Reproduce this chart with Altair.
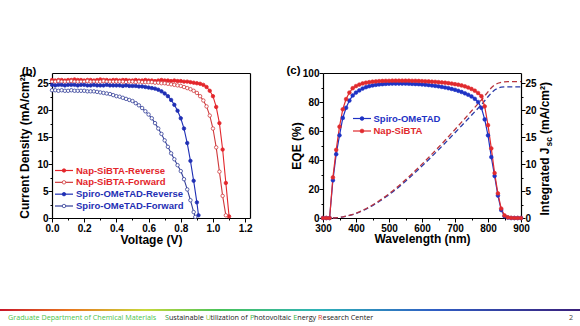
import altair as alt
import pandas as pd

FONT = "Liberation Sans"

# ---------------- panel (b): J-V curves ----------------
V_NAP_REV = [0.00, 0.02, 0.04, 0.06, 0.08, 0.10, 0.12, 0.14, 0.16, 0.18,
             0.20, 0.22, 0.24, 0.26, 0.28, 0.30, 0.32, 0.34, 0.36, 0.38,
             0.40, 0.42, 0.44, 0.46, 0.48, 0.50, 0.52, 0.54, 0.56, 0.58,
             0.60, 0.62, 0.64, 0.66, 0.68, 0.70, 0.72, 0.74, 0.76, 0.78,
             0.80, 0.82, 0.84, 0.86, 0.88, 0.90, 0.92, 0.94, 0.96, 0.98,
             1.00, 1.02, 1.04, 1.06, 1.08, 1.10]
J_NAP_REV = [25.6, 25.5, 25.6, 25.6, 25.5, 25.6, 25.6, 25.7, 25.6, 25.6,
             25.5, 25.6, 25.6, 25.5, 25.6, 25.7, 25.6, 25.6, 25.5, 25.6,
             25.6, 25.5, 25.6, 25.6, 25.5, 25.5, 25.6, 25.5, 25.5, 25.6,
             25.5, 25.5, 25.4, 25.5, 25.6, 25.5, 25.5, 25.4, 25.5, 25.4,
             25.4, 25.3, 25.3, 25.2, 25.1, 25.0, 24.9, 24.7, 24.3, 23.6,
             22.6, 20.6, 17.6, 12.7, 6.5, 0.3]
V_NAP_FWD = [0.00, 0.02, 0.04, 0.06, 0.08, 0.10, 0.12, 0.14, 0.16, 0.18,
             0.20, 0.22, 0.24, 0.26, 0.28, 0.30, 0.32, 0.34, 0.36, 0.38,
             0.40, 0.42, 0.44, 0.46, 0.48, 0.50, 0.52, 0.54, 0.56, 0.58,
             0.60, 0.62, 0.64, 0.66, 0.68, 0.70, 0.72, 0.74, 0.76, 0.78,
             0.80, 0.82, 0.84, 0.86, 0.88, 0.90, 0.92, 0.94, 0.96, 0.98,
             1.00, 1.02, 1.04, 1.06, 1.08]
J_NAP_FWD = [25.3, 25.3, 25.4, 25.3, 25.3, 25.3, 25.4, 25.3, 25.3, 25.3,
             25.3, 25.4, 25.3, 25.3, 25.3, 25.3, 25.4, 25.3, 25.3, 25.3,
             25.3, 25.3, 25.3, 25.2, 25.3, 25.3, 25.2, 25.3, 25.2, 25.2,
             25.2, 25.2, 25.1, 25.1, 25.0, 25.0, 24.9, 24.8, 24.7, 24.6,
             24.5, 24.3, 24.1, 23.9, 23.6, 23.2, 22.6, 21.8, 20.7, 19.0,
             16.6, 13.1, 8.6, 4.1, 0.5]
V_SPIRO_REV = [0.00, 0.02, 0.04, 0.06, 0.08, 0.10, 0.12, 0.14, 0.16, 0.18,
               0.20, 0.22, 0.24, 0.26, 0.28, 0.30, 0.32, 0.34, 0.36, 0.38,
               0.40, 0.42, 0.44, 0.46, 0.48, 0.50, 0.52, 0.54, 0.56, 0.58,
               0.60, 0.62, 0.64, 0.66, 0.68, 0.70, 0.72, 0.74, 0.76, 0.78,
               0.80, 0.82, 0.84, 0.86, 0.88, 0.90, 0.91]
J_SPIRO_REV = [24.7, 24.6, 24.7, 24.7, 24.6, 24.7, 24.7, 24.7, 24.6, 24.7,
               24.7, 24.6, 24.6, 24.7, 24.6, 24.6, 24.6, 24.7, 24.6, 24.6,
               24.6, 24.6, 24.5, 24.6, 24.5, 24.5, 24.5, 24.4, 24.4, 24.3,
               24.2, 24.1, 24.0, 23.8, 23.5, 23.1, 22.6, 21.9, 21.0, 19.9,
               18.5, 16.6, 13.9, 10.6, 6.9, 2.9, 0.5]
V_SPIRO_FWD = [0.00, 0.02, 0.04, 0.06, 0.08, 0.10, 0.12, 0.14, 0.16, 0.18,
               0.20, 0.22, 0.24, 0.26, 0.28, 0.30, 0.32, 0.34, 0.36, 0.38,
               0.40, 0.42, 0.44, 0.46, 0.48, 0.50, 0.52, 0.54, 0.56, 0.58,
               0.60, 0.62, 0.64, 0.66, 0.68, 0.70, 0.72, 0.74, 0.76, 0.78,
               0.80, 0.82, 0.84, 0.86, 0.88, 0.89]
J_SPIRO_FWD = [23.7, 23.7, 23.6, 23.7, 23.6, 23.6, 23.7, 23.6, 23.6, 23.6,
               23.6, 23.5, 23.5, 23.5, 23.4, 23.3, 23.2, 23.1, 23.0, 22.8,
               22.6, 22.5, 22.3, 22.1, 21.9, 21.7, 21.3, 20.9, 20.4, 19.8,
               19.2, 18.5, 17.6, 16.6, 15.6, 14.4, 13.2, 12.0, 10.9, 9.8,
               8.7, 7.2, 5.3, 3.3, 1.1, 0.2]
JV_NAMES = ["Nap-SiBTA-Reverse", "Nap-SiBTA-Forward",
            "Spiro-OMeTAD-Reverse", "Spiro-OMeTAD-Forward"]

# ---------------- panel (c): EQE + integrated Jsc ----------------
WL = [300, 310, 320, 330, 340, 350, 360, 370, 380, 390,
      400, 410, 420, 430, 440, 450, 460, 470, 480, 490,
      500, 510, 520, 530, 540, 550, 560, 570, 580, 590,
      600, 610, 620, 630, 640, 650, 660, 670, 680, 690,
      700, 710, 720, 730, 740, 750, 760, 770, 780, 790,
      800, 810, 820, 830, 840, 850, 860, 870, 880, 890, 900]
EQE_NAP = [0, 0, 0, 28, 47, 63, 75, 82, 86.5, 89.5,
           91, 92, 92.8, 93.3, 93.7, 94.0, 94.2, 94.4, 94.5, 94.6,
           94.6, 94.7, 94.7, 94.7, 94.7, 94.7, 94.7, 94.6, 94.6, 94.5,
           94.4, 94.3, 94.2, 94.0, 93.9, 93.7, 93.5, 93.3, 93.0, 92.7,
           92.3, 91.9, 91.4, 90.8, 90.0, 89.0, 87.8, 86.2, 84.0, 77.0,
           64.0, 48.0, 31.0, 17.0, 6.5, 1.8, 0.5, 0.1, 0, 0, 0]
EQE_SPIRO = [0, 0, 0, 26, 44, 57, 69, 76, 81, 84.5,
             86.5, 88, 89.3, 90.2, 90.9, 91.4, 91.8, 92.1, 92.3, 92.5,
             92.6, 92.7, 92.7, 92.7, 92.7, 92.7, 92.6, 92.5, 92.4, 92.3,
             92.1, 91.9, 91.7, 91.4, 91.1, 90.8, 90.4, 90.0, 89.5, 89.0,
             88.4, 87.7, 86.9, 86.0, 85.0, 83.8, 82.2, 80.0, 76.0, 68.0,
             57.0, 42.0, 29.0, 15.5, 5.5, 1.2, 0.3, 0, 0, 0, 0]
WL_JSC = [330, 340, 350, 360, 370, 380, 390,
          400, 410, 420, 430, 440, 450, 460, 470, 480, 490,
          500, 510, 520, 530, 540, 550, 560, 570, 580, 590,
          600, 610, 620, 630, 640, 650, 660, 670, 680, 690,
          700, 710, 720, 730, 740, 750, 760, 770, 780, 790,
          800, 810, 820, 830, 840, 850, 860, 870, 880, 890, 900]
JSC_NAP = [0, 0.05, 0.12, 0.22, 0.35, 0.5, 0.68,
           0.9, 1.15, 1.42, 1.72, 2.05, 2.4, 2.78, 3.18, 3.6, 4.05,
           4.5, 4.98, 5.48, 6.0, 6.53, 7.08, 7.64, 8.22, 8.8, 9.4,
           10.0, 10.6, 11.22, 11.85, 12.48, 13.12, 13.77, 14.42, 15.08, 15.75,
           16.42, 17.1, 17.78, 18.46, 19.15, 19.84, 20.53, 21.22, 21.9, 22.65,
           23.4, 24.15, 24.7, 25.0, 25.18, 25.26, 25.3, 25.3, 25.3, 25.3, 25.3]
JSC_SPIRO = [0, 0.04, 0.11, 0.2, 0.32, 0.47, 0.64,
             0.85, 1.09, 1.35, 1.64, 1.96, 2.3, 2.66, 3.05, 3.45, 3.88,
             4.32, 4.78, 5.26, 5.76, 6.28, 6.81, 7.35, 7.91, 8.47, 9.05,
             9.64, 10.22, 10.82, 11.43, 12.04, 12.66, 13.28, 13.91, 14.54, 15.18,
             15.82, 16.47, 17.12, 17.77, 18.42, 19.07, 19.72, 20.37, 21.02, 21.75,
             22.5, 23.2, 23.75, 24.1, 24.27, 24.32, 24.33, 24.33, 24.33, 24.33, 24.33]
EQE_NAMES = ["Spiro-OMeTAD", "Nap-SiBTA"]

# tick values (majors labelled, minors between)
JV_X_TICKS = [0.0, 0.1, 0.2, 0.3, 0.4, 0.5, 0.6, 0.7, 0.8, 0.9, 1.0, 1.1, 1.2]
J_TICKS = [0, 2.5, 5, 7.5, 10, 12.5, 15, 17.5, 20, 22.5, 25]
WL_TICKS = [300, 350, 400, 450, 500, 550, 600, 650, 700, 750, 800, 850, 900]
EQE_TICKS = [0, 10, 20, 30, 40, 50, 60, 70, 80, 90, 100]

# footer text pieces (coloured initials)
FOOT_LEFT = "Graduate Department of Chemical Materials"
FOOT_PIECES = [("S", "#2e9e45"), ("ustainable", "#1a1a1a"), ("U", "#8cc63e"),
               ("tilization of", "#1a1a1a"), ("P", "#3db54a"), ("hotovoltaic", "#1a1a1a"),
               ("E", "#39b54a"), ("nergy", "#1a1a1a"), ("R", "#d93a2b"),
               ("esearch Center", "#1a1a1a")]
FOOT_X = [165, 168.9, 205.8, 210.5, 249.9, 254.1, 293.3, 297.3, 318.1, 322.6]
PAGE_NO = "2"

# ---------------- styles ----------------
RED = "#e3262b"
RED_F = "#cf3a3c"
BLUE = "#1f2fb4"
BLUE_F = "#333f98"
JV_STROKE = [RED, RED_F, BLUE, BLUE_F]
JV_FILL = [RED, "#ffffff", BLUE, "#ffffff"]
JV_TEXT = [RED, RED, BLUE, BLUE]
EQE_COL = ["#1e32c4", "#e02a2e"]
JSC_COL = ["#2a3aa8", "#b8343c"]

for a, b in [(V_NAP_REV, J_NAP_REV), (V_NAP_FWD, J_NAP_FWD), (V_SPIRO_REV, J_SPIRO_REV),
             (V_SPIRO_FWD, J_SPIRO_FWD), (WL, EQE_NAP), (WL, EQE_SPIRO),
             (WL_JSC, JSC_NAP), (WL_JSC, JSC_SPIRO), (FOOT_PIECES, FOOT_X)]:
    assert len(a) == len(b), (len(a), len(b))

rows = []
for name, vs, js in zip(JV_NAMES, [V_NAP_REV, V_NAP_FWD, V_SPIRO_REV, V_SPIRO_FWD],
                        [J_NAP_REV, J_NAP_FWD, J_SPIRO_REV, J_SPIRO_FWD]):
    rows += [{"series": name, "V": v, "J": j} for v, j in zip(vs, js)]
jv = pd.DataFrame(rows)

rows = []
for name, ys in zip(EQE_NAMES, [EQE_SPIRO, EQE_NAP]):
    rows += [{"series": name, "wl": w, "eqe": e} for w, e in zip(WL, ys)]
eqe = pd.DataFrame(rows)

rows = []
for name, ys in zip(EQE_NAMES, [JSC_SPIRO, JSC_NAP]):
    rows += [{"series": name, "wl": w, "jsc": e} for w, e in zip(WL_JSC, ys)]
jsc = pd.DataFrame(rows)

# ---------------- geometry (pixel ranges of the two plot boxes) ----------------
W, H = 580, 326
TOP, BOT = 73, 218
B_L, B_R = 52, 250
C_L, C_R = 323, 521

axis_style = dict(labelFont=FONT, labelFontSize=10, labelFontWeight="bold", labelColor="#000",
                  titleFont=FONT, titleFontSize=12, titleFontWeight="bold", titleColor="#000",
                  domainColor="#000", domainWidth=1.2, tickColor="#000", tickWidth=1,
                  labelFlush=False, labelOverlap=False, grid=False)


def tick_axis(orient, offset, values, minor, fmt, title, pad, **kw):
    return alt.Axis(orient=orient, offset=offset, values=values, format=fmt,
                    labelExpr=f"({minor}) ? '' : datum.label", labelPadding=pad,
                    tickSize={"condition": {"test": minor, "value": 2}, "value": 4},
                    title=title, **axis_style, **kw)


def frame_axis(orient, offset):
    return alt.Axis(orient=orient, offset=offset, labels=False, ticks=False, title=None,
                    grid=False, domainColor="#000", domainWidth=1.2)


def legend_layers(names, y_range, stroke_scale, fill_scale, text_colors, x0, x1, xt, size):
    df = pd.DataFrame({"series": names})
    y = alt.Y("series:N", axis=None,
              scale=alt.Scale(type="point", domain=names, range=y_range, padding=0))
    rule = alt.Chart(df).mark_rule(strokeWidth=1.2).encode(
        x=alt.value(x0), x2=alt.value(x1), y=y,
        stroke=alt.Stroke("series:N", scale=stroke_scale, legend=None))
    pt = alt.Chart(df).mark_point(filled=True, size=size, strokeWidth=0.8, opacity=1).encode(
        x=alt.value((x0 + x1) / 2), y=y,
        stroke=alt.Stroke("series:N", scale=stroke_scale, legend=None),
        fill=alt.Fill("series:N", scale=fill_scale, legend=None))
    txt = alt.Chart(df).mark_text(font=FONT, fontSize=9.5, fontWeight="bold", align="left",
                                  baseline="middle").encode(
        x=alt.value(xt), y=y, text="series:N",
        color=alt.Color("series:N", scale=alt.Scale(domain=names, range=text_colors),
                        legend=None))
    return alt.layer(rule, pt, txt).resolve_scale(stroke="independent", fill="independent",
                                                   color="independent")


# ---------------- panel (b) ----------------
x_b = alt.Scale(domain=[0, 1.23], range=[B_L, B_R], nice=False, zero=False)
y_b = alt.Scale(domain=[0, 26.9], range=[BOT, TOP], nice=False, zero=False)
s_b = alt.Scale(domain=JV_NAMES, range=JV_STROKE)
f_b = alt.Scale(domain=JV_NAMES, range=JV_FILL)
ax_bx = tick_axis("bottom", BOT - H, JV_X_TICKS, "round(datum.value*10)%2==1", ".1f",
                  "Voltage (V)", 1, titleY=21, titleBaseline="middle")
ax_by = tick_axis("left", -B_L, J_TICKS, "datum.value%5!=0", "d",
                  "Current Density (mA/cm²)", 0, titleX=-28, titleBaseline="middle")

b_line = alt.Chart(jv).mark_line(strokeWidth=1.1).encode(
    x=alt.X("V:Q", scale=x_b, axis=ax_bx),
    y=alt.Y("J:Q", scale=y_b, axis=ax_by),
    stroke=alt.Stroke("series:N", scale=s_b, legend=None),
)
b_pts = alt.Chart(jv).mark_point(filled=True, size=12, strokeWidth=0.8, opacity=1).encode(
    x=alt.X("V:Q", scale=x_b, axis=ax_bx),
    y=alt.Y("J:Q", scale=y_b, axis=ax_by),
    stroke=alt.Stroke("series:N", scale=s_b, legend=None),
    fill=alt.Fill("series:N", scale=f_b, legend=None),
)
panel_b = alt.layer(b_line, b_pts)
frame_b = alt.Chart(jv).mark_line(opacity=0).encode(
    x=alt.X("V:Q", scale=x_b, axis=frame_axis("top", -TOP)),
    y=alt.Y("J:Q", scale=y_b, axis=frame_axis("right", B_R - W)),
    detail="series:N",
)
legend_b = legend_layers(JV_NAMES, [170.5, 206], s_b, f_b, JV_TEXT, 55, 73, 76, 12)

# ---------------- panel (c) ----------------
x_c = alt.Scale(domain=[300, 900], range=[C_L, C_R], nice=False, zero=False)
y_eqe = alt.Scale(domain=[0, 100], range=[BOT, TOP], nice=False, zero=False)
y_jsc = alt.Scale(domain=[0, 26.9], range=[BOT, TOP], nice=False, zero=False)
s_c = alt.Scale(domain=EQE_NAMES, range=EQE_COL)
s_j = alt.Scale(domain=EQE_NAMES, range=JSC_COL)
ax_cx = tick_axis("bottom", BOT - H, WL_TICKS, "datum.value%100!=0", "d",
                  "Wavelength (nm)", 1, titleY=20.5, titleBaseline="middle")
ax_cy = tick_axis("left", -C_L, EQE_TICKS, "datum.value%20!=0", "d",
                  "EQE (%)", 0, titleX=-27, titleBaseline="middle")
ax_cj = tick_axis("right", C_R - W, J_TICKS, "datum.value%5!=0", "d", None, 0)

c_jsc = alt.Chart(jsc).mark_line(strokeWidth=1.3, strokeDash=[5, 3]).encode(
    x=alt.X("wl:Q", scale=x_c, axis=frame_axis("top", -TOP)),
    y=alt.Y("jsc:Q", scale=y_jsc, axis=ax_cj),
    stroke=alt.Stroke("series:N", scale=s_j, legend=None),
)
c_line = alt.Chart(eqe).mark_line(strokeWidth=1.2).encode(
    x=alt.X("wl:Q", scale=x_c, axis=ax_cx),
    y=alt.Y("eqe:Q", scale=y_eqe, axis=ax_cy),
    stroke=alt.Stroke("series:N", scale=s_c, legend=None),
)
c_pts = alt.Chart(eqe).mark_point(filled=True, size=14, strokeWidth=0.6, opacity=1).encode(
    x=alt.X("wl:Q", scale=x_c, axis=ax_cx),
    y=alt.Y("eqe:Q", scale=y_eqe, axis=ax_cy),
    stroke=alt.Stroke("series:N", scale=s_c, legend=None),
    fill=alt.Fill("series:N", scale=s_c, legend=None),
)
panel_c = alt.layer(c_line, c_pts)
legend_c = legend_layers(EQE_NAMES, [118.5, 131], s_c, s_c, EQE_COL, 353, 371, 373.5, 14)


# ---------------- text annotations ----------------
def label(text, x, y, size, color="#000", weight="bold", angle=0, align="center",
          font=FONT):
    return alt.Chart(pd.DataFrame({"t": [text]})).mark_text(
        fontSize=size, font=font, fontWeight=weight, color=color, angle=angle,
        align=align, baseline="middle").encode(x=alt.value(x), y=alt.value(y), text="t:N")


texts = [
    label("(b)", 29, 72, 11.5),
    label("(c)", 293.5, 70.5, 11.5),
    label("Integrated J", 545, 147.5, 12, angle=270, align="right"),
    label("sc", 548.5, 146.5, 8.5, angle=270, align="left"),
    label("(mA/cm²)", 545, 134, 12, angle=270, align="left"),
    label(FOOT_LEFT, 8, 318, 7.2, color="#4cc34c", weight="normal", align="left",
          font="Open Sans"),
    label(PAGE_NO, 571, 318, 7.2, color="#444", weight="normal", font="Open Sans"),
]
for (piece, col), xp in zip(FOOT_PIECES, FOOT_X):
    texts.append(label(piece, xp, 318, 7.2, color=col, weight="normal", align="left",
                       font="Open Sans"))

grad = alt.LinearGradient(gradient="linear", x1=0, x2=1, y1=0, y2=0, stops=[
    alt.GradientStop(color="#c8162a", offset=0),
    alt.GradientStop(color="#e8761e", offset=0.12),
    alt.GradientStop(color="#c8d83a", offset=0.25),
    alt.GradientStop(color="#48c35a", offset=0.38),
    alt.GradientStop(color="#2eb2b8", offset=0.55),
    alt.GradientStop(color="#2f5ec4", offset=0.75),
    alt.GradientStop(color="#3a1f7a", offset=1.0),
])
footer_bar = alt.Chart(pd.DataFrame({"k": [0]})).mark_rect(fill=grad).encode(
    x=alt.value(0), x2=alt.value(W), y=alt.value(309), y2=alt.value(311))

chart = alt.layer(
    frame_b, panel_b, legend_b, c_jsc, panel_c, legend_c, footer_bar, *texts
).resolve_scale(
    x="independent", y="independent", stroke="independent", fill="independent",
    color="independent"
).resolve_axis(
    x="independent", y="independent"
).properties(
    width=W, height=H, autosize=alt.AutoSizeParams(type="none"), padding=0,
    background="#ffffff"
).configure_view(strokeWidth=0)

chart.save("out.html", embed_options={"renderer": "svg", "actions": False})
